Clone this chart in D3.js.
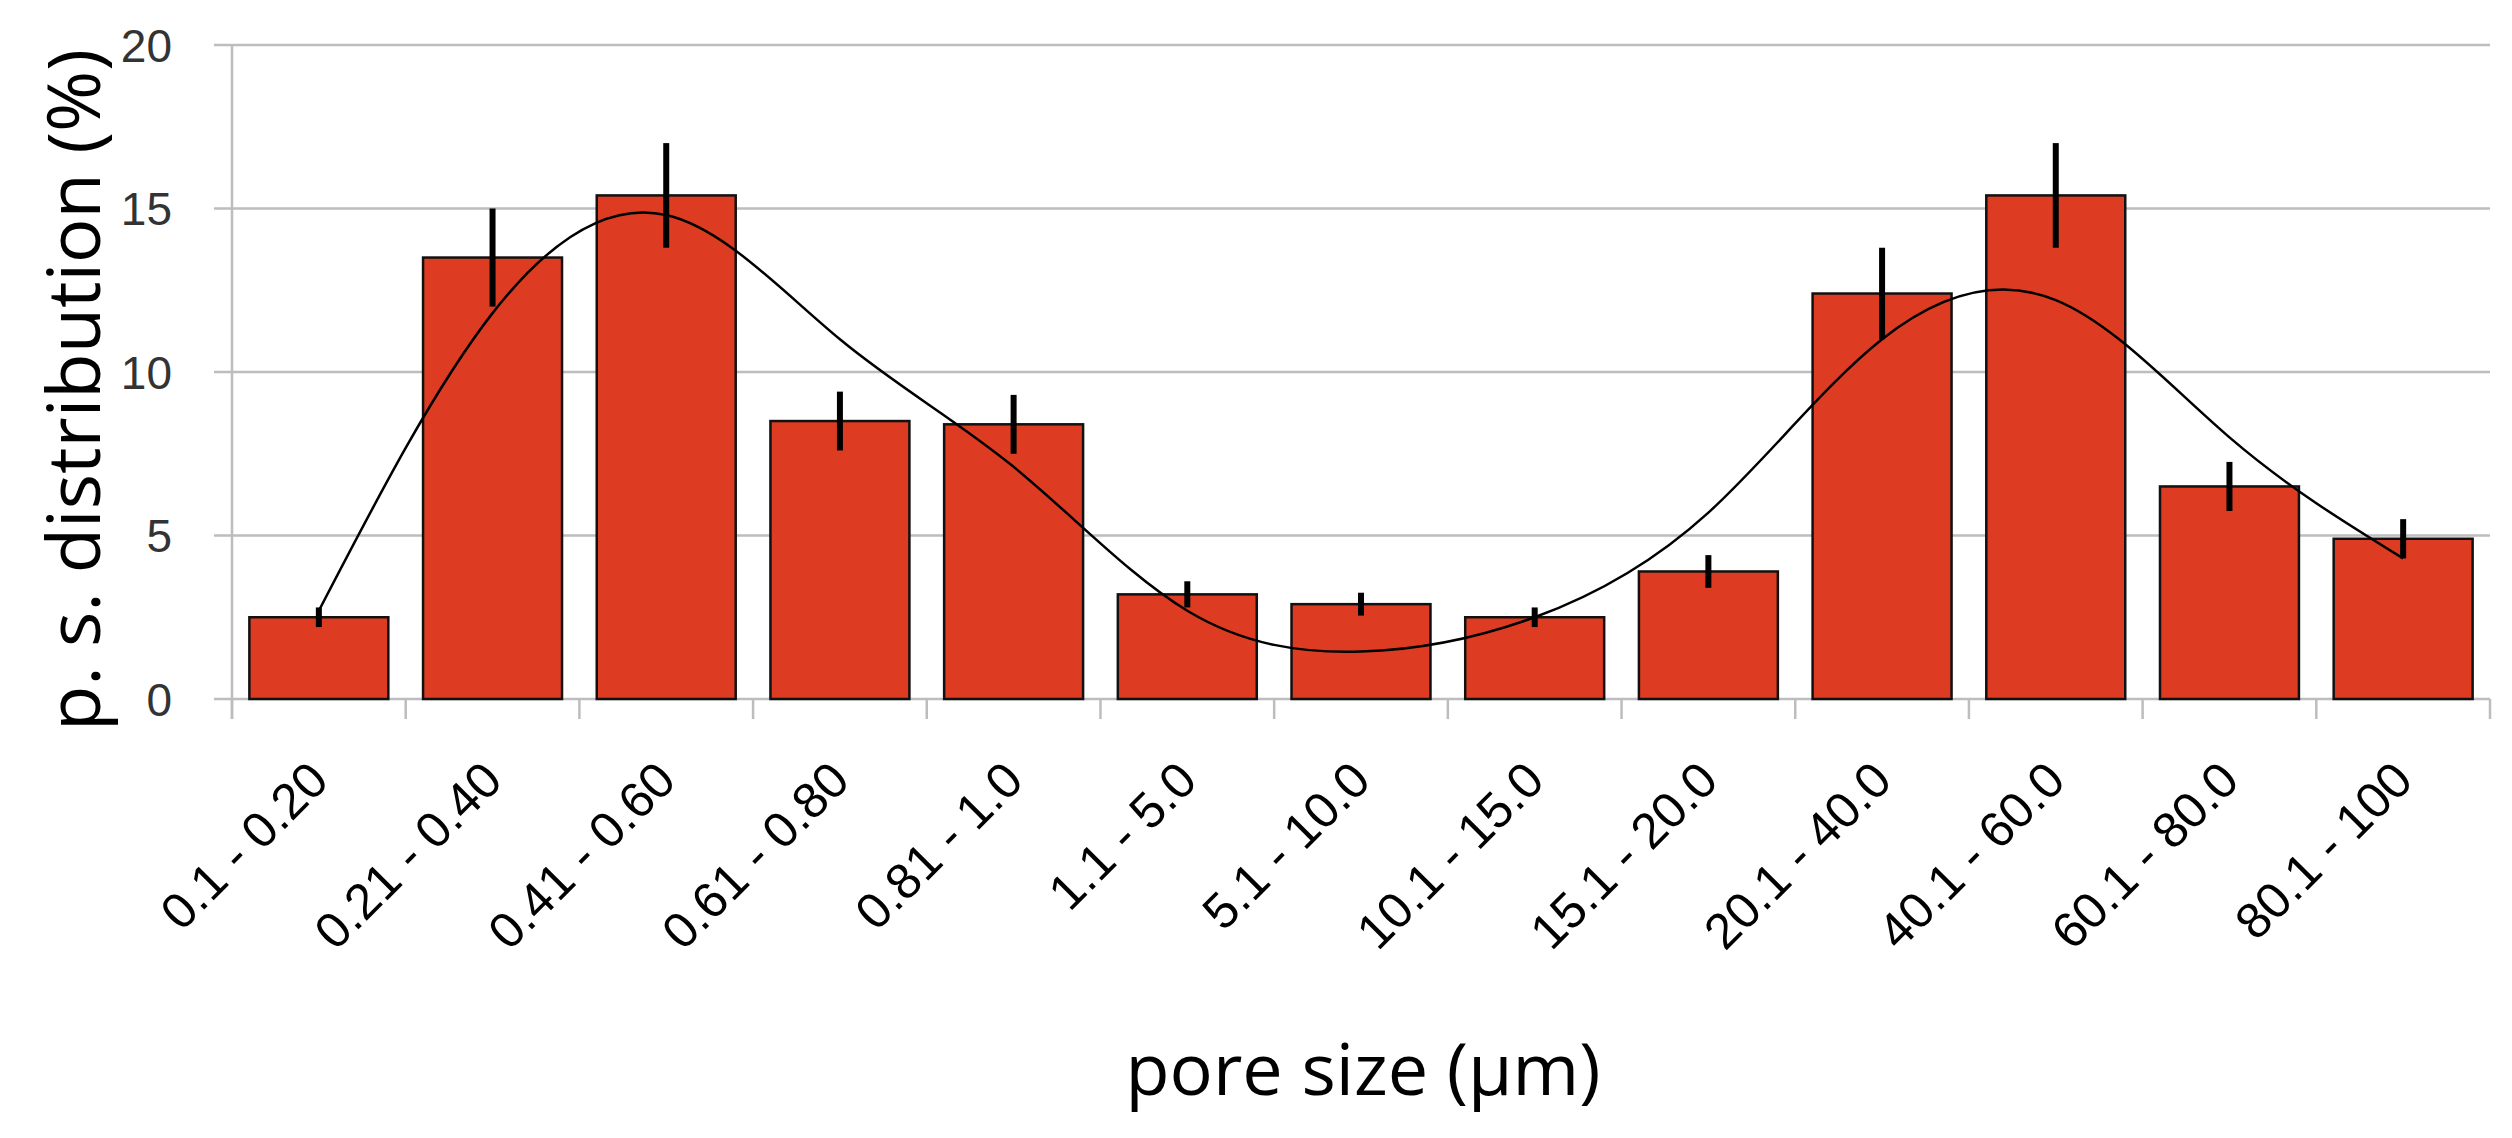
<!DOCTYPE html>
<html><head><meta charset="utf-8">
<script src="https://cdn.jsdelivr.net/npm/d3@7"></script>
<style>body{margin:0;background:#fff}</style></head>
<body><svg id="c" width="2512" height="1138"></svg>
<script>
const categories = ["0.1 - 0.20","0.21 - 0.40","0.41 - 0.60","0.61 - 0.80","0.81 - 1.0","1.1 - 5.0","5.1 - 10.0","10.1 - 15.0","15.1 - 20.0","20.1 - 40.0","40.1 - 60.0","60.1 - 80.0","80.1 - 100"];
const values = [2.5,13.5,15.4,8.5,8.4,3.2,2.9,2.5,3.9,12.4,15.4,6.5,4.9];
const errors = [0.3,1.5,1.6,0.9,0.9,0.4,0.35,0.3,0.5,1.4,1.6,0.75,0.6];
const fitCurve = [2.7,11.8,14.8,11.0,7.1,2.7,1.45,2.5,5.7,11.0,12.2,8.0,4.3];
const yTicks = [0,5,10,15,20];

const svg = d3.select("#c");
const m = {l:232, r:2490, t:45, b:699};
const x = d3.scaleBand().domain(categories).range([m.l, m.r]).paddingInner(0.2).paddingOuter(0.1);
const y = d3.scaleLinear().domain([0,20]).range([m.b, m.t]);

svg.append("g").selectAll("line").data(yTicks).join("line")
  .attr("x1", m.l-18).attr("x2", m.r).attr("y1", d=>y(d)).attr("y2", d=>y(d))
  .attr("stroke", "#bdbdbd").attr("stroke-width", 2.5);
svg.append("line").attr("x1", m.l).attr("x2", m.l).attr("y1", m.t).attr("y2", m.b+20)
  .attr("stroke", "#bdbdbd").attr("stroke-width", 2.5);
const bounds = d3.range(categories.length+1).map(i => m.l + i*(m.r-m.l)/categories.length);
svg.append("g").selectAll("line").data(bounds).join("line")
  .attr("x1", d=>d).attr("x2", d=>d).attr("y1", m.b).attr("y2", m.b+20)
  .attr("stroke", "#bdbdbd").attr("stroke-width", 2.5);

svg.append("g").selectAll("text").data(yTicks).join("text")
  .attr("x", 172).attr("y", d=>y(d)).attr("dy", "0.36em").attr("text-anchor","end")
  .attr("font-family","'Liberation Sans Narrow','Liberation Sans',sans-serif").attr("font-size",46)
  .attr("fill","#333").text(d=>d);

svg.append("g").selectAll("rect").data(values).join("rect")
  .attr("x", (d,i)=>x(categories[i])).attr("width", x.bandwidth())
  .attr("y", d=>y(d)).attr("height", d=>y(0)-y(d))
  .attr("fill","#de3c22").attr("stroke","#111").attr("stroke-width",2.5);

svg.append("g").selectAll("line").data(values).join("line")
  .attr("x1",(d,i)=>x(categories[i])+x.bandwidth()/2).attr("x2",(d,i)=>x(categories[i])+x.bandwidth()/2)
  .attr("y1",(d,i)=>y(d+errors[i])).attr("y2",(d,i)=>y(d-errors[i]))
  .attr("stroke","#000").attr("stroke-width",6);

const line = d3.line().x((d,i)=>x(categories[i])+x.bandwidth()/2).y(d=>y(d)).curve(d3.curveNatural);
svg.append("path").datum(fitCurve).attr("d", line).attr("fill","none").attr("stroke","#000").attr("stroke-width",2.5);

svg.append("g").selectAll("text").data(categories).join("text")
  .attr("transform", d=>`translate(${x(d)+x.bandwidth()/2+12},783) rotate(-45)`)
  .attr("text-anchor","end")
  .attr("font-family","'Liberation Sans',Arial,sans-serif").attr("font-size",50).attr("fill","#000")
  .text(d=>d);

svg.append("text").attr("transform", `translate(100,390) rotate(-90)`)
  .attr("text-anchor","middle").attr("font-family","'Open Sans',sans-serif").attr("font-size",74)
  .attr("fill","#000").text("p. s. distribution (%)");
svg.append("text").attr("x",1363).attr("y",1095).attr("text-anchor","middle")
  .attr("font-family","'Open Sans',sans-serif").attr("font-size",72).attr("fill","#000").text("pore size (μm)");
</script></body></html>
